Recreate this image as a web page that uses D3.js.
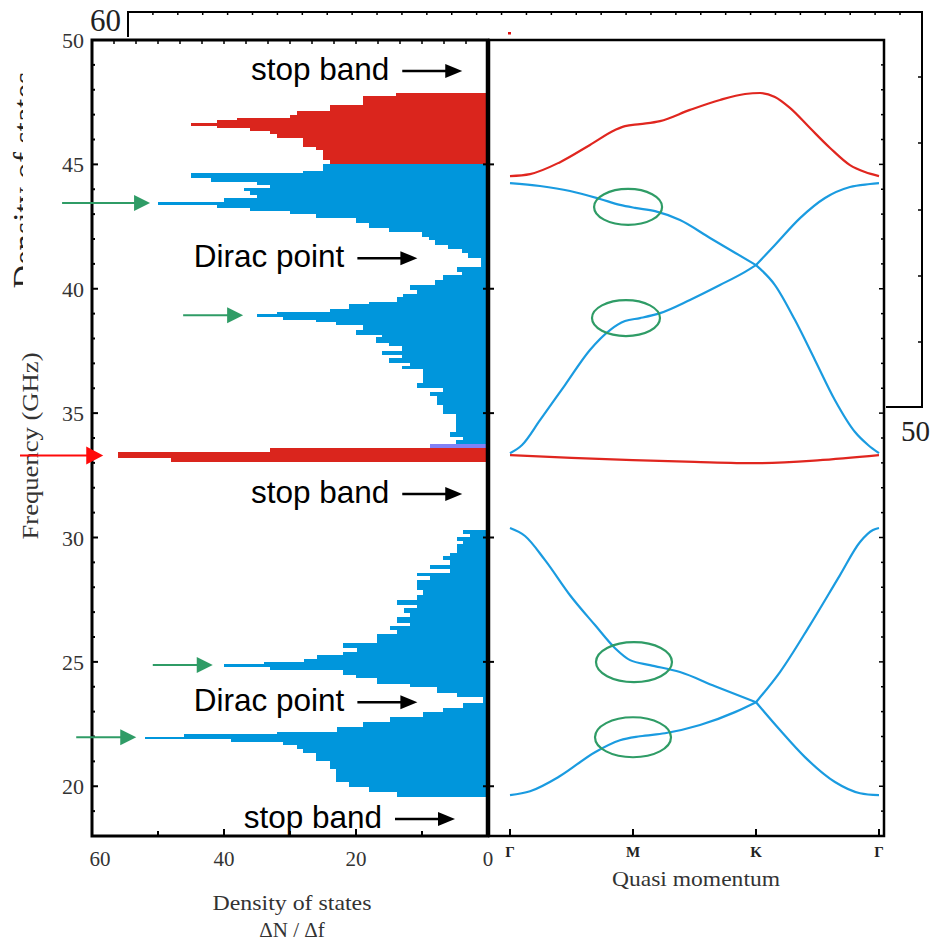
<!DOCTYPE html>
<html>
<head>
<meta charset="utf-8">
<script src="https://cdn.jsdelivr.net/npm/d3@7/dist/d3.min.js"></script>
<style>
  html, body { margin: 0; padding: 0; background: #fff; }
  svg { display: block; }
</style>
</head>
<body>
<script>
// ---------- Density of states histograms (bin edges in GHz, counts ΔN/Δf) ----------
const redUpperEdges = [45.0, 45.17, 45.58, 45.71, 46.05, 46.21, 46.34, 46.45, 46.55, 46.65, 46.78, 46.85, 46.98, 47.14, 47.39, 47.76, 47.86];
const redUpperDos   = [24, 25, 26, 28, 32, 33, 36, 41, 45, 41, 38, 30, 29, 24, 19, 14];

const blueUpperEdges = [33.76, 33.92, 34.05, 34.25, 34.96, 35.32, 35.69, 35.86, 36.03, 36.2, 36.76, 36.89, 37.0, 37.2, 37.34, 37.51, 37.7, 37.83, 38.05, 38.14, 38.34, 38.54, 38.65, 38.74, 38.88, 38.98, 39.08, 39.17, 39.39, 39.48, 39.68, 39.79, 39.95, 40.15, 40.35, 40.55, 40.69, 40.89, 41.22, 41.42, 41.6, 41.76, 41.96, 42.09, 42.27, 42.43, 42.63, 42.83, 42.99, 43.12, 43.26, 43.37, 43.5, 43.63, 43.77, 43.93, 44.04, 44.17, 44.3, 44.46, 44.64, 44.73, 45.0];
const blueUpperDos   = [4.8, 3.8, 5.8, 4.8, 6.8, 7.8, 8.8, 6.8, 10.8, 9.8, 13, 11.8, 15, 13, 16, 13, 15, 17, 16, 20, 19, 23, 26, 31, 35, 32, 24, 21, 18, 13.8, 12.9, 10.8, 11.8, 8, 6.8, 4, 4.7, 1, 3, 4, 6, 8, 9, 10, 15, 18, 20, 26, 30, 36, 41, 50, 40, 35, 36, 37, 33, 35, 42, 45, 28, 25];

const redBandEdges = [33.03, 33.2, 33.44, 33.6];
const redBandDos   = [48, 56, 33];

const violetEdges = [33.6, 33.76];
const violetDos   = [8.8];

const blueLowerEdges = [19.58, 19.78, 19.98, 20.18, 20.71, 21.02, 21.32, 21.48, 21.65, 21.79, 21.88, 22.0, 22.1, 22.19, 22.39, 22.59, 22.79, 22.99, 23.13, 23.33, 23.6, 23.73, 24.0, 24.13, 24.34, 24.47, 24.67, 24.78, 24.91, 24.98, 25.1, 25.27, 25.41, 25.54, 25.74, 26.14, 26.28, 26.44, 26.55, 26.79, 26.95, 27.15, 27.28, 27.48, 27.68, 27.89, 28.29, 28.45, 28.58, 28.72, 28.89, 29.09, 29.25, 29.39, 29.74, 29.87, 30.03, 30.16, 30.32];
const blueLowerDos   = [13.8, 18, 21, 23, 24, 26, 28, 29, 31, 39, 52, 46, 32, 22.9, 18.9, 14.8, 9.8, 6.8, 3.8, 0.8, 4.7, 7.7, 11.8, 16.8, 20, 22, 33, 40, 34, 27.9, 25.9, 21.9, 19.9, 21.9, 16.8, 13.8, 14.8, 11.8, 13.8, 11.8, 12.8, 10.8, 13.8, 10.8, 9.8, 10.8, 8.8, 10.8, 5.8, 8.8, 5.8, 6.8, 5.8, 4.7, 3.8, 4.7, 2.7, 3.8];

// ---------- Band structure along Γ–M–K–Γ (k index 0..3, frequency GHz) ----------
const kLabels = ["Γ", "M", "K", "Γ"];
const redTopBand = [[0, 44.53], [0.163, 44.61], [0.407, 45.09], [0.65, 45.78], [0.854, 46.38], [0.935, 46.54], [1.057, 46.62], [1.22, 46.74], [1.463, 47.19], [1.707, 47.59], [1.911, 47.83], [2.033, 47.87], [2.154, 47.71], [2.276, 47.27], [2.439, 46.46], [2.602, 45.66], [2.764, 44.97], [2.886, 44.69], [3, 44.53]];
const blueBandA = [[0, 44.25], [0.244, 44.13], [0.488, 43.93], [0.732, 43.61], [0.894, 43.37], [1.016, 43.25], [1.179, 43.12], [1.382, 42.76], [1.626, 42.04], [1.829, 41.45], [2, 40.95], [2.154, 40.15], [2.317, 38.74], [2.48, 37.13], [2.642, 35.52], [2.805, 34.24], [2.911, 33.72], [3, 33.39]];
const blueBandB = [[0, 33.39], [0.098, 33.72], [0.244, 34.72], [0.447, 36.13], [0.65, 37.54], [0.813, 38.34], [0.935, 38.7], [1.057, 38.82], [1.22, 39.02], [1.463, 39.55], [1.707, 40.15], [1.911, 40.68], [2, 40.95], [2.154, 41.76], [2.358, 42.84], [2.561, 43.65], [2.764, 44.09], [2.927, 44.21], [3, 44.25]];
const redFlatBand = [[0, 33.31], [0.5, 33.2], [1, 33.11], [1.5, 33.04], [2, 32.99], [2.5, 33.1], [3, 33.31]];
const blueBandC = [[0, 30.38], [0.122, 30.06], [0.285, 29.09], [0.488, 27.68], [0.691, 26.48], [0.854, 25.55], [0.976, 25.07], [1.138, 24.87], [1.382, 24.59], [1.667, 24.02], [2, 23.38], [2.195, 22.26], [2.398, 21.17], [2.642, 20.17], [2.846, 19.72], [3, 19.64]];
const blueBandD = [[0, 19.64], [0.163, 19.8], [0.407, 20.41], [0.691, 21.37], [0.894, 21.85], [1.057, 22.01], [1.26, 22.13], [1.545, 22.46], [1.829, 22.98], [2, 23.38], [2.195, 24.59], [2.439, 26.48], [2.683, 28.49], [2.846, 29.82], [2.951, 30.3], [3, 30.38]];

// Flattened-band regions near M (k, GHz)
const highlightRings = [[0.96, 43.29], [0.943, 38.82], [1.008, 24.99], [1.0, 21.97]];

// Arrow annotations: [label, frequency, DOS value at the arrow head]
const regionNotes = [["stop band", 48.75, 3.9], ["Dirac point", 41.23, 10.7], ["stop band", 31.75, 3.9], ["Dirac point", 23.38, 10.7], ["stop band", 18.68, 5.0]];
// Peak markers: [frequency, DOS value at the arrow head]
const peakMarkers = [[43.45, 51.2], [38.93, 37.1], [24.87, 41.7], [21.97, 53.3]];
const edgeMarker = [33.3, 58.3];

const dosTicks = [60, 40, 20, 0];
const freqTicks = [20, 25, 30, 35, 40, 45, 50];

// ---------- Scales ----------
const W = 932, H = 943;
const y = d3.scaleLinear().domain([18, 50]).range([836, 40]);
const xDos = d3.scaleLinear().domain([60, 0]).range([92, 488]);
const xK = d3.scaleLinear().domain([0, 3]).range([510, 879]);
const panelRight = 884;

const serif = "'Liberation Serif', 'Times New Roman', serif";
const sans = "'Liberation Sans', Arial, sans-serif";
const RED = "#da251d", BLUE = "#0096dc", VIOLET = "#8282f6", GREEN = "#2f9c66";

const svg = d3.select("body").append("svg").attr("width", W).attr("height", H);

// ---------- Framed plot behind the main panels ----------
const back = svg.append("g").attr("fill", "none").attr("stroke", "#000");
back.append("path").attr("d", "M128,37V12H922V407H886").attr("stroke-width", 2);
const backTop = d3.scaleLinear().domain([0, 31]).range([128, 900]);
back.selectAll("line.bt").data(d3.range(1, 32)).join("line")
  .attr("x1", d => backTop(d)).attr("x2", d => backTop(d)).attr("y1", 12).attr("y2", 15).attr("stroke-width", 1.5);
back.selectAll("line.br").data([77, 143, 210, 276, 342]).join("line")
  .attr("x1", 922).attr("x2", 918).attr("y1", d => d).attr("y2", d => d).attr("stroke-width", 1.5);
svg.append("text").attr("x", 121).attr("y", 31).attr("text-anchor", "end")
  .attr("font-family", serif).attr("font-size", 31).attr("fill", "#222").text("60");
svg.append("text").attr("x", 930).attr("y", 441).attr("text-anchor", "end")
  .attr("font-family", serif).attr("font-size", 29).attr("fill", "#222").text("50");
svg.append("rect").attr("x", 508).attr("y", 32).attr("width", 3).attr("height", 2.5).attr("fill", "#e01010");
svg.append("clipPath").attr("id", "edgeClip").append("rect").attr("x", 0).attr("y", 0).attr("width", 23).attr("height", 400);
svg.append("g").attr("clip-path", "url(#edgeClip)").append("text")
  .attr("transform", "translate(35,180) rotate(-90)")
  .attr("text-anchor", "middle").attr("font-family", serif).attr("font-size", 32)
  .attr("textLength", 217).attr("lengthAdjust", "spacingAndGlyphs").attr("fill", "#222")
  .text("Density of states");

// ---------- Histogram bars ----------
function drawDos(edges, values, color) {
  const bins = values.map((v, i) => ({ lo: edges[i], hi: edges[i + 1], v }));
  svg.append("g").attr("shape-rendering", "crispEdges").selectAll("rect").data(bins).join("rect")
    .attr("x", d => xDos(d.v))
    .attr("width", d => xDos(0) - xDos(d.v))
    .attr("y", d => y(d.hi))
    .attr("height", d => y(d.lo) - y(d.hi))
    .attr("fill", color);
}
drawDos(redUpperEdges, redUpperDos, RED);
drawDos(blueUpperEdges, blueUpperDos, BLUE);
drawDos(violetEdges, violetDos, VIOLET);
drawDos(redBandEdges, redBandDos, RED);
drawDos(blueLowerEdges, blueLowerDos, BLUE);

// ---------- Band curves (bands that cross at K are drawn as two pieces) ----------
const bandLine = d3.line().x(d => xK(d[0])).y(d => y(d[1])).curve(d3.curveMonotoneX);
const curves = svg.append("g").attr("fill", "none").attr("stroke-width", 2.2);
function drawBand(pts, color, splitAtK) {
  const pieces = splitAtK ? [pts.filter(d => d[0] <= 2), pts.filter(d => d[0] >= 2)] : [pts];
  pieces.forEach(p => curves.append("path").attr("d", bandLine(p)).attr("stroke", color));
}
drawBand(redTopBand, "#e0261f", false);
drawBand(redFlatBand, "#e0261f", false);
[blueBandA, blueBandB, blueBandC, blueBandD].forEach(b => drawBand(b, "#1a9be0", true));

svg.append("g").selectAll("ellipse").data(highlightRings).join("ellipse")
  .attr("cx", d => xK(d[0])).attr("cy", d => y(d[1]))
  .attr("rx", (d, i) => i < 2 ? 34 : 38).attr("ry", (d, i) => i < 2 ? 18 : 20)
  .attr("fill", "none").attr("stroke", GREEN).attr("stroke-width", 2.2);

// ---------- Frames and ticks ----------
const frame = svg.append("g").attr("stroke", "#000").attr("fill", "none");
frame.append("rect").attr("x", 92).attr("y", 40).attr("width", 396).attr("height", 796).attr("stroke-width", 3);
frame.append("path").attr("d", `M488,40H${panelRight}V836H488`).attr("stroke-width", 2.5);
frame.append("line").attr("x1", 488).attr("x2", 488).attr("y1", 40).attr("y2", 836).attr("stroke-width", 4.5);

// left frequency axis: minor ticks every GHz, major every 5 GHz
const minorF = d3.range(19, 50, 1);
frame.selectAll("line.lm").data(minorF).join("line")
  .attr("x1", 92).attr("x2", d => d % 5 === 0 ? 98 : 95)
  .attr("y1", d => y(d)).attr("y2", d => y(d)).attr("stroke-width", 2);
frame.selectAll("line.dm").data(freqTicks.filter(d => d < 50)).join("line")
  .attr("x1", 483).attr("x2", 494).attr("y1", d => y(d)).attr("y2", d => y(d)).attr("stroke-width", 2);
frame.selectAll("line.rm").data(minorF).join("line")
  .attr("x1", panelRight).attr("x2", d => d % 5 === 0 ? panelRight - 5 : panelRight - 3)
  .attr("y1", d => y(d)).attr("y2", d => y(d)).attr("stroke-width", 1.5);
// DOS axis ticks
frame.selectAll("line.bm").data(d3.range(0, 61, 10)).join("line")
  .attr("x1", d => xDos(d)).attr("x2", d => xDos(d))
  .attr("y1", 836).attr("y2", d => d % 20 === 0 ? 829 : 831).attr("stroke-width", 2);
frame.selectAll("line.tm").data(d3.range(1, 18)).join("line")
  .attr("x1", d => xDos(60 - d * 10 / 3)).attr("x2", d => xDos(60 - d * 10 / 3))
  .attr("y1", 40).attr("y2", 44).attr("stroke-width", 1.5);
// momentum ticks
frame.selectAll("line.km").data(d3.range(0, 4)).join("line")
  .attr("x1", d => xK(d)).attr("x2", d => xK(d)).attr("y1", 836).attr("y2", 829).attr("stroke-width", 2);

// ---------- Tick labels and titles ----------
svg.append("g").selectAll("text").data(freqTicks).join("text")
  .attr("x", 84).attr("y", d => y(d) + 8).attr("text-anchor", "end")
  .attr("font-family", serif).attr("font-size", 22).attr("fill", "#333").text(d => d);
svg.append("g").selectAll("text").data(dosTicks).join("text")
  .attr("x", d => d === 60 ? xDos(d) + 8 : xDos(d)).attr("y", 866).attr("text-anchor", "middle")
  .attr("font-family", serif).attr("font-size", 21).attr("fill", "#333").text(d => d);
svg.append("g").selectAll("text").data(kLabels).join("text")
  .attr("x", (d, i) => xK(i)).attr("y", 857).attr("text-anchor", "middle")
  .attr("font-family", serif).attr("font-weight", "bold").attr("font-size", 15).attr("fill", "#222").text(d => d);

svg.append("text").attr("transform", "translate(38,446) rotate(-90)").attr("text-anchor", "middle")
  .attr("font-family", serif).attr("font-size", 23).attr("textLength", 187).attr("lengthAdjust", "spacingAndGlyphs")
  .attr("fill", "#333").text("Frequency (GHz)");
svg.append("text").attr("x", 696).attr("y", 886).attr("text-anchor", "middle")
  .attr("font-family", serif).attr("font-size", 22).attr("textLength", 168).attr("lengthAdjust", "spacingAndGlyphs")
  .attr("fill", "#333").text("Quasi momentum");
svg.append("text").attr("x", 292).attr("y", 910).attr("text-anchor", "middle")
  .attr("font-family", serif).attr("font-size", 21).attr("textLength", 159).attr("lengthAdjust", "spacingAndGlyphs")
  .attr("fill", "#333").text("Density of states");
svg.append("text").attr("x", 292).attr("y", 937).attr("text-anchor", "middle")
  .attr("font-family", serif).attr("font-size", 21).attr("fill", "#333").text("ΔN / Δf");

// ---------- Arrows ----------
function arrow(g, x1, x2, yy, color, w, headLen, headHalf) {
  g.append("line").attr("x1", x1).attr("x2", x2 - headLen + 2).attr("y1", yy).attr("y2", yy)
    .attr("stroke", color).attr("stroke-width", w);
  g.append("path").attr("d", `M${x2},${yy}L${x2 - headLen},${yy - headHalf}L${x2 - headLen},${yy + headHalf}Z`).attr("fill", color);
}
const notes = svg.append("g");
regionNotes.forEach(([label, f, v]) => {
  const xe = xDos(v), yy = y(f);
  arrow(notes, xe - 60, xe, yy, "#000", 2.5, 17, 7);
  notes.append("text").attr("x", xe - 73).attr("y", yy + 9).attr("text-anchor", "end")
    .attr("font-family", sans).attr("font-size", 31.5).attr("fill", "#000").text(label);
});
peakMarkers.forEach(([f, v], i) => {
  const xe = xDos(v);
  arrow(notes, xe - (i === 0 ? 88 : 60), xe, y(f), GREEN, 2, 16, 8);
});
arrow(notes, 20, xDos(edgeMarker[1]), y(edgeMarker[0]), "#ff0a0a", 2, 17, 9);
</script>
</body>
</html>
